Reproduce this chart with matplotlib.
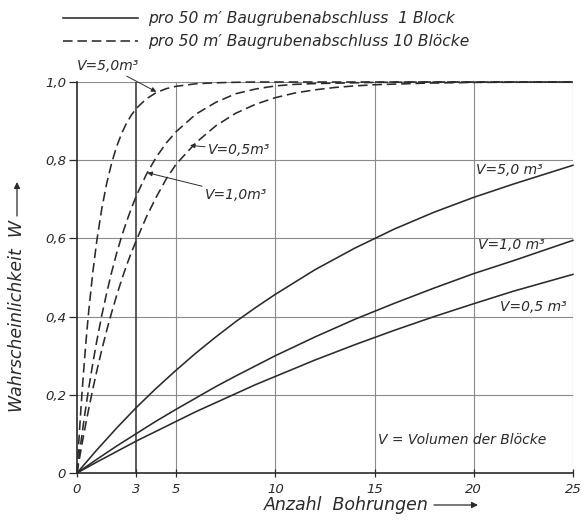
import matplotlib
matplotlib.use("Agg")
import matplotlib.pyplot as plt
from matplotlib.patches import FancyArrowPatch
from matplotlib.ticker import FixedLocator

# Anzahl Bohrungen (x) and Wahrscheinlichkeit W
n_block = [0, 1, 2, 3, 4, 5, 6, 7, 8, 9, 10, 12, 14, 16, 18, 20, 22, 25]
w_block_50 = [0, 0.059, 0.115, 0.168, 0.217, 0.263, 0.307, 0.348, 0.387, 0.423,
              0.457, 0.520, 0.575, 0.624, 0.667, 0.705, 0.739, 0.787]
w_block_10 = [0, 0.035, 0.069, 0.101, 0.133, 0.163, 0.192, 0.221, 0.248, 0.274,
              0.300, 0.348, 0.393, 0.434, 0.473, 0.510, 0.543, 0.595]
w_block_05 = [0, 0.028, 0.055, 0.082, 0.107, 0.132, 0.157, 0.180, 0.203, 0.226,
              0.247, 0.289, 0.328, 0.365, 0.400, 0.433, 0.465, 0.508]

n_bloecke = [0, 0.1, 0.2, 0.3, 0.4, 0.5, 0.6, 0.8, 1.0, 1.25, 1.5, 1.75, 2, 2.25,
             2.5, 2.75, 3, 3.5, 4, 4.5, 5, 6, 7, 8, 9, 10, 11, 12, 13, 14, 15,
             17.5, 20, 25]
w_bloecke_50 = [0, 0.086, 0.165, 0.237, 0.303, 0.363, 0.418, 0.514, 0.594, 0.676,
                0.741, 0.793, 0.835, 0.868, 0.895, 0.916, 0.933, 0.957, 0.973,
                0.983, 0.989, 0.9955, 0.998, 0.9993, 1.0, 1.0, 1.0, 1.0, 1.0,
                1.0, 1.0, 1.0, 1.0, 1.0]
w_bloecke_10 = [0, 0.040, 0.079, 0.116, 0.152, 0.186, 0.219, 0.281, 0.338, 0.403,
                0.461, 0.514, 0.562, 0.605, 0.643, 0.678, 0.710, 0.764, 0.808,
                0.844, 0.873, 0.918, 0.948, 0.970, 0.982, 0.990, 0.994, 0.996,
                0.997, 0.998, 0.999, 1.0, 1.0, 1.0]
w_bloecke_05 = [0, 0.030, 0.059, 0.087, 0.114, 0.140, 0.166, 0.215, 0.261, 0.315,
                0.365, 0.411, 0.454, 0.494, 0.531, 0.565, 0.596, 0.655, 0.706,
                0.752, 0.790, 0.845, 0.888, 0.920, 0.943, 0.960, 0.972, 0.980,
                0.986, 0.990, 0.993, 0.997, 0.999, 1.0]

x_ticks = [0, 3, 5, 10, 15, 20, 25]
y_ticks = [0, 0.2, 0.4, 0.6, 0.8, 1.0]
y_labels = ["0", "0,2", "0,4", "0,6", "0,8", "1,0"]

ink = "#2a2a2a"
grid = "#8a8a8a"

plt.rcParams['font.family'] = ['DejaVu Sans']
plt.rcParams['font.style'] = 'italic'

fig = plt.figure(figsize=(5.84, 5.24), dpi=100)
ax = fig.add_axes([0.1318, 0.0973, 0.8492, 0.7462])
ax.set_xlim(0, 25)
ax.set_ylim(0, 1.0)

# grid
for y in y_ticks[1:]:
    ax.axhline(y, color=grid, lw=0.8, zorder=1)
for x in x_ticks[1:]:
    c, w = ("#404040", 1.2) if x == 3 else (grid, 0.8)
    ax.axvline(x, color=c, lw=w, zorder=1)

for s in ['top', 'right']:
    ax.spines[s].set_visible(False)
for s in ['left', 'bottom']:
    ax.spines[s].set_color(ink)
    ax.spines[s].set_linewidth(1.2)

style = dict(color=ink, lw=1.15, clip_on=False, zorder=3)
l1, = ax.plot(n_block, w_block_50, **style)
ax.plot(n_block, w_block_10, **style)
ax.plot(n_block, w_block_05, **style)
l2, = ax.plot(n_bloecke, w_bloecke_50, dashes=(6, 3), **style)
ax.plot(n_bloecke, w_bloecke_10, dashes=(6, 3), **style)
ax.plot(n_bloecke, w_bloecke_05, dashes=(6, 3), **style)

ax.xaxis.set_major_locator(FixedLocator(x_ticks))
ax.set_xticklabels([str(v) for v in x_ticks])
ax.yaxis.set_major_locator(FixedLocator(y_ticks))
ax.set_yticklabels(y_labels)
ax.tick_params(axis='x', direction='inout', length=6, width=0.9, color=ink,
               labelsize=9.5, labelcolor=ink, pad=4)
ax.tick_params(axis='y', direction='out', length=6, width=0.9, color=ink,
               labelsize=9.5, labelcolor=ink, pad=2)

# axis titles with long arrows
long_arrow = dict(arrowstyle='-|>', lw=0.9, color=ink, mutation_scale=9,
                  shrinkA=0, shrinkB=0)
fig.text(346 / 584, 1 - 505 / 524, "Anzahl  Bohrungen", fontsize=12.5,
         color=ink, ha='center', va='center')
fig.add_artist(FancyArrowPatch(
    (434 / 584, 1 - 505 / 524), (478 / 584, 1 - 505 / 524),
    transform=fig.transFigure, **long_arrow))
fig.text(17 / 584, 1 - 316 / 524, "Wahrscheinlichkeit  W", fontsize=12.5,
         color=ink, ha='center', va='center', rotation=90)
fig.add_artist(FancyArrowPatch(
    (17 / 584, 1 - 216 / 524), (17 / 584, 1 - 182 / 524),
    transform=fig.transFigure, **long_arrow))

fs = 10
arrow = dict(arrowstyle='-|>', lw=0.7, color=ink, mutation_scale=7,
             shrinkA=0, shrinkB=0)
ax.annotate("V=5,0m³", xy=(4.0, 0.975), xytext=(0.0, 1.04), fontsize=fs,
            color=ink, va='center', ha='left', arrowprops=arrow,
            annotation_clip=False)
ax.annotate("V=0,5m³", xy=(5.7, 0.838), xytext=(6.6, 0.826), fontsize=fs,
            color=ink, va='center', ha='left', arrowprops=arrow)
ax.annotate("V=1,0m³", xy=(3.55, 0.768), xytext=(6.45, 0.712), fontsize=fs,
            color=ink, va='center', ha='left', arrowprops=arrow)

ax.text(20.1, 0.775, "V=5,0 m³", fontsize=fs, color=ink, va='center', ha='left')
ax.text(20.2, 0.583, "V=1,0 m³", fontsize=fs, color=ink, va='center', ha='left')
ax.text(21.3, 0.425, "V=0,5 m³", fontsize=fs, color=ink, va='center', ha='left')
ax.text(15.2, 0.084, "V = Volumen der Blöcke", fontsize=fs, color=ink,
        va='center', ha='left')

fig.legend([l1, l2],
           ["pro 50 m′ Baugrubenabschluss  1 Block",
            "pro 50 m′ Baugrubenabschluss 10 Blöcke"],
           loc='upper left', bbox_to_anchor=(0.084, 1.005), frameon=False,
           fontsize=11.2, handlelength=4.8, handletextpad=0.64,
           labelspacing=0.5, labelcolor=ink)

fig.savefig("out.png", dpi=100, facecolor='white')
